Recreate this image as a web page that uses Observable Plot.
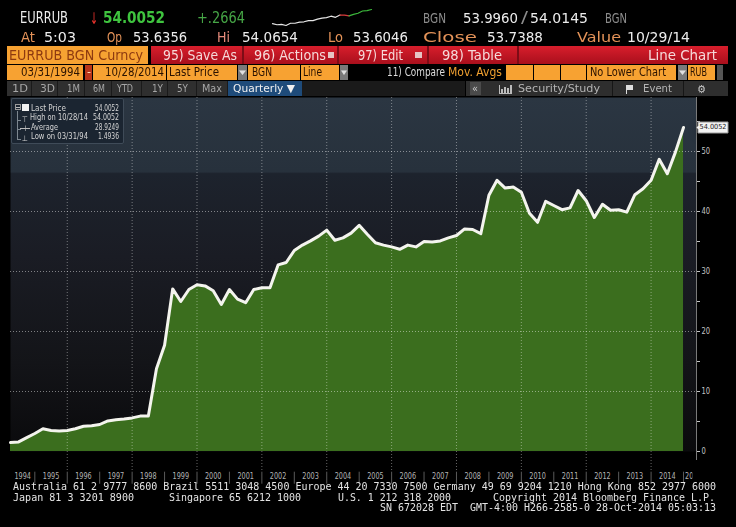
<!DOCTYPE html>
<html><head><meta charset="utf-8">
<script src="https://cdn.jsdelivr.net/npm/d3@7"></script>
<script src="https://cdn.jsdelivr.net/npm/@observablehq/plot@0.6"></script>
<style>
html,body{margin:0;padding:0;background:#000;}
#page{position:relative;width:736px;height:527px;overflow:hidden;background:#000;font-family:"DejaVu Sans",sans-serif;}
.t{position:absolute;white-space:pre;transform-origin:0 0;}
.b{position:absolute;box-sizing:border-box;}
#chart{position:absolute;left:0;top:96px;}
#spark{position:absolute;left:271px;top:8px;}
</style></head><body><div id="page"><div id="chart"></div><div id="spark"></div></div>
<script>
// ---------------- data ----------------
const startYear = 1994;            // first quarter-end: 03/31/1994
const eurrub = [
  1.49, 1.6, 2.3, 3.0,      // 1994
  3.8, 3.5, 3.4, 3.5,       // 1995
  3.8, 4.2, 4.3, 4.5,       // 1996
  5.1, 5.3, 5.4, 5.6,       // 1997
  5.9, 5.9, 13.8, 17.7,     // 1998
  27.1, 25.0, 27.0, 27.8,   // 1999
  27.6, 26.8, 24.5, 27.0,   // 2000
  25.4, 24.8, 27.0, 27.3,   // 2001
  27.3, 31.1, 31.5, 33.5,   // 2002
  34.4, 35.1, 35.9, 36.9,   // 2003
  35.2, 35.6, 36.4, 37.7,   // 2004
  36.2, 34.8, 34.4, 34.1,   // 2005
  33.7, 34.4, 34.1, 35.0,   // 2006
  34.9, 35.1, 35.6, 36.0,   // 2007
  37.1, 37.0, 36.3, 42.7,   // 2008
  45.2, 43.9, 44.1, 43.2,   // 2009
  39.7, 38.2, 41.7, 41.0,   // 2010
  40.3, 40.6, 43.5, 41.8,   // 2011
  39.0, 41.2, 40.2, 40.3,   // 2012
  39.9, 42.8, 43.8, 45.2,   // 2013
  48.7, 46.3, 49.9, 54.0052 // 2014
];
const yearLabels = [1994,1995,1996,1997,1998,1999,2000,2001,2002,2003,2004,2005,2006,2007,2008,2009,2010,2011,2012,2013,2014];
const partialYearLabels = [2015];
const yearBounds = [1995,1996,1997,1998,1999,2000,2001,2002,2003,2004,2005,2006,2007,2008,2009,2010,2011,2012,2013,2014,2015];
const gridYears = [1996,1998,2000,2002,2004,2006,2008,2010,2012,2014];
const yMajorTicks = [0,10,20,30,40,50];
const yMinorTicks = [5,15,25,35,45,55];
const sparkValues = [53.63,53.60,53.61,53.58,53.64,53.64,53.67,53.68,53.71,53.71,53.75,53.78,53.79,53.83,53.80,53.86,53.86,53.84,53.88,53.91,53.97,53.98,54.01];
const sparkSession = ["prev","prev","prev","prev","prev","prev","prev","prev","prev","prev","prev","prev","prev","prev","prev","prev","down","down","up","up","up","up","up"];

const series = eurrub.map((v, i) => ({t: startYear + (i + 1) / 4, v}));
const last = series[series.length - 1];
const xDomain = [startYear + 0.25, 2015.4];

const page = document.getElementById("page");
function T(txt, x, base, size, color, w, o = {}) {
  const s = document.createElement("span");
  const lh = (o.lh || 1) * size;
  s.className = "t";
  s.textContent = txt;
  s.style.left = x + "px";
  s.style.top = (base - ((lh / size - 1.164) / 2 + 0.928) * size) + "px";
  s.style.fontSize = size + "px";
  s.style.lineHeight = lh + "px";
  s.style.color = color;
  if (o.weight) s.style.fontWeight = o.weight;
  if (o.family) s.style.fontFamily = o.family;
  page.appendChild(s);
  if (w) { const m = s.getBoundingClientRect().width; if (m > 0) s.style.transform = `scaleX(${w / m})`; }
  return s;
}
function B(x, y, w, h, bg, o = {}) {
  const d = document.createElement("div");
  d.className = "b";
  Object.assign(d.style, {left: x + "px", top: y + "px", width: w + "px", height: h + "px", background: bg}, o);
  page.appendChild(d);
  return d;
}

// ---------------- header ----------------
const W = "#ececec", OR = "#e39258", GR = "#8c8c8c";
T("EURRUB", 20, 23.5, 15, W, 48);
T("↓", 90, 25, 16, "#e8322c", 8);
T("54.0052", 103, 23.5, 15, "#3fc43f", 62, {weight: "bold"});
T("+.2664", 197, 23.5, 15, "#46a646", 48);
T("BGN", 423, 23, 14, GR, 23);
T("53.9960", 463, 23, 14, W, 55);
T("/", 521, 23.5, 15, GR, 7);
T("54.0145", 530, 23, 14, W, 58);
T("BGN", 605, 23, 14, GR, 22);

T("At", 21, 42, 14, OR, 14);
T("5:03", 44, 42, 14, W, 32);
T("Op", 107, 42, 14, OR, 15);
T("53.6356", 133, 42, 14, W, 54);
T("Hi", 217, 42, 14, "#e58a7a", 13);
T("54.0654", 242, 42, 14, W, 56);
T("Lo", 328, 42, 14, OR, 15);
T("53.6046", 353, 42, 14, W, 55);
T("Close", 423, 42, 14, OR, 54);
T("53.7388", 487, 42, 14, W, 56);
T("Value", 577, 42, 14, OR, 44);
T("10/29/14", 627, 42, 14, W, 63);

// toolbar row
const ORG = "#f7a232", DK = "#2a1200", PK = "#f6dada";
B(7, 46, 141, 18, ORG);
B(151, 46, 577, 18, "linear-gradient(#d81e2c,#a90f1c)");
T("EURRUB BGN Curncy", 9, 60, 14, "#8e3a10", 134);
T("95) Save As", 163, 60, 14, PK, 74);
T("96) Actions", 254, 60, 14, PK, 72);
T("97) Edit", 358, 60, 14, PK, 45);
T("98) Table", 442, 60, 14, PK, 60);
T("Line Chart", 648, 60, 14, PK, 69);
[242, 337, 427, 517].forEach(x => B(x, 46, 2, 18, "#7d0c16"));
B(328, 52, 6, 6, "#e6c4c4"); B(415, 52, 7, 6, "#e6c4c4");

// field row
[[7,76],[93,73],[167,70],[248,52],[301,38],[506,27],[534,26],[561,25],[587,89],[688,27]].forEach(([x,w]) => B(x, 65, w, 15, ORG));
B(85, 65, 7, 15, "#b8351a");
[[238,9],[340,8],[678,9]].forEach(([x,w]) => { B(x, 65, w, 15, "#7a7a7a"); T("▾", x + 1, 76, 9, "#e0e0e0", w - 2); });
B(717, 65, 6, 15, "#555");
T("03/31/1994", 21, 76.5, 12, DK, 59);
T("-", 87, 76, 12, "#ffd8b0", 4);
T("10/28/2014", 105, 76.5, 12, DK, 59);
T("Last Price", 169, 76.5, 12, DK, 50);
T("BGN", 252, 76.5, 12, DK, 20);
T("Line", 303, 76.5, 12, DK, 19);
T("11) Compare", 387, 76.5, 12, "#dcdcdc", 58);
T("Mov. Avgs", 448, 76.5, 12, "#f0a030", 54);
T("No Lower Chart", 590, 76.5, 12, DK, 76);
T("RUB", 690, 76.5, 12, DK, 17);

// period row
B(7, 81, 458, 15, "#1a1a1a");
[[7,24],[32,25],[58,26],[85,26],[112,29],[142,25],[168,28],[197,30]].forEach(([x,w]) => B(x, 81, w, 15, "#2f2f2f"));
B(228, 81, 74, 15, "#1e4b7a");
B(466, 81, 262, 15, "#2e2e2e");
B(470, 82, 11, 13, "#4a4a4a");
[612, 683].forEach(x => B(x, 81, 1, 15, "#161616"));
const PG = "#a6a6a6";
T("1D", 12, 92.5, 11, PG, 16); T("3D", 40, 92.5, 11, PG, 15); T("1M", 67, 92.5, 11, PG, 13);
T("6M", 93, 92.5, 11, PG, 12); T("YTD", 117, 92.5, 11, PG, 16); T("1Y", 152, 92.5, 11, PG, 11);
T("5Y", 177, 92.5, 11, PG, 11); T("Max", 202, 92.5, 11, PG, 20);
T("Quarterly ▼", 233, 92.5, 11, "#f0f0f0", 62);
T("«", 472, 92, 10, "#cccccc", 6);
T("Security/Study", 518, 92.5, 11, "#b4b4b4", 82);
T("Event", 643, 92.5, 11, "#b4b4b4", 29);
T("⚙", 697, 93, 11, "#c8c8c8", 9);
B(499, 93, 13, 1, "#bbb"); B(499, 85, 1, 9, "#bbb");
B(501, 89, 2, 4, "#bbb"); B(504, 87, 2, 6, "#bbb"); B(507, 88, 2, 5, "#bbb"); B(510, 85, 2, 8, "#bbb");
B(626, 85, 1, 9, "#ddd"); B(627, 85, 6, 5, "#ddd");

// ---------------- sparkline ----------------
const sparkData = sparkValues.map((v, i) => ({i, v, s: sparkSession[i]}));
const sparkSegs = [];
["prev","down","up"].forEach(s => {
  const idx = sparkData.filter(d => d.s === s).map(d => d.i);
  const from = Math.max(0, idx[0] - 1);
  for (let k = from; k <= idx[idx.length - 1]; k++) sparkSegs.push({...sparkData[k], seg: s});
});
document.getElementById("spark").appendChild(Plot.plot({
  width: 101, height: 18, margin: 1, axis: null,
  x: {axis: null}, y: {axis: null},
  color: {domain: ["prev","down","up"], range: ["#e6e6e6","#d83a3a","#3cb83c"]},
  style: {background: "transparent", overflow: "visible"},
  marks: [Plot.line(sparkSegs, {x: "i", y: "v", z: "seg", stroke: "seg", strokeWidth: 1.2})]
}));

// ---------------- main chart ----------------
const defs = () => {
  const d = d3.create("svg:defs");
  const g = d.append("linearGradient").attr("id", "bgGrad").attr("x1", 0).attr("y1", 0).attr("x2", 0).attr("y2", 1);
  [[0,"#2b3642"],[0.21,"#27313c"],[0.215,"#1d232d"],[0.45,"#1a1c24"],[0.75,"#131418"],[1,"#0a0a0c"]]
    .forEach(([o,c]) => g.append("stop").attr("offset", o).attr("stop-color", c));
  d.append("clipPath").attr("id", "yrClip").append("rect").attr("x", 0).attr("y", 0).attr("width", 690.5).attr("height", 400);
  return d.node();
};
const chart = Plot.plot({
  width: 736, height: 390,
  marginTop: 1, marginBottom: 35, marginLeft: 10, marginRight: 40,
  x: {domain: xDomain, axis: null},
  y: {domain: [0, 59], axis: null},
  style: {background: "#000", color: "#c4c4c4", fontFamily: "DejaVu Sans", overflow: "visible"},
  marks: [
    defs,
    Plot.frame({fill: "url(#bgGrad)"}),
    Plot.areaY(series, {x: "t", y: "v", fill: "#3b6e1e"}),
    Plot.ruleY(yMajorTicks.filter(d => d > 0), {stroke: "#ffffff", strokeOpacity: 0.45, strokeDasharray: "1,2"}),
    Plot.ruleX(gridYears, {y1: 59, y2: -3.2, stroke: "#ffffff", strokeOpacity: 0.4, strokeDasharray: "1,2"}),
    Plot.lineY(series, {x: "t", y: "v", stroke: "#f4f4ee", strokeWidth: 3, strokeLinejoin: "round"}),
    Plot.ruleX([xDomain[1]], {y1: 59, y2: -1.5, stroke: "#7a7a7a"}),
    Plot.axisY({anchor: "right", ticks: yMajorTicks, tickSize: 3, tickPadding: 2, fontSize: 8, color: "#c4c4c4", label: null}),
    Plot.axisY({anchor: "right", ticks: yMinorTicks, tickSize: 3, tickFormat: () => "", color: "#c4c4c4", label: null}),
    Plot.ruleX(yearBounds, {y1: -3.45, y2: -5.45, stroke: "#5a5a5a"}),
    Plot.text(yearLabels, {x: d => (Math.max(d, xDomain[0]) + Math.min(d + 1, xDomain[1])) / 2, y: -4.2, text: d => String(d), fontSize: 8, fill: "#b4b4b4"}),
    Plot.text(partialYearLabels, {x: d => d, y: -4.2, text: d => String(d), textAnchor: "start", dx: 1.5, fontSize: 8, fill: "#b4b4b4"}),
    Plot.tip([last], {x: () => xDomain[1], y: "v", title: d => d.v.toFixed(4), anchor: "left", fill: "#f2f2f2", stroke: "#9a9a9a", fontSize: 7, textPadding: 1.5, pointerSize: 3})
  ]
});
document.getElementById("chart").appendChild(chart);
// post-render text fitting (condensed terminal font look)
const textGroups = chart.querySelectorAll('g[aria-label="text"]');
textGroups.forEach(g => g.querySelectorAll("text").forEach(t => {
  t.setAttribute("textLength", 16.5); t.setAttribute("lengthAdjust", "spacingAndGlyphs");
}));
if (textGroups[1]) textGroups[1].setAttribute("clip-path", "url(#yrClip)");
const tickLabelGroups = chart.querySelectorAll('g[aria-label="y-axis tick label"]');
tickLabelGroups.forEach((g, k) => {
  if (k > 0) { g.remove(); return; }
  g.querySelectorAll("text").forEach(t => {
    const n = t.textContent.length;
    t.setAttribute("textLength", 4.3 * n); t.setAttribute("lengthAdjust", "spacingAndGlyphs");
  });
});
chart.querySelectorAll('g[aria-label="tip"] text').forEach(t => {
  t.style.fill = "#1a1a1a";
  t.setAttribute("textLength", 27); t.setAttribute("lengthAdjust", "spacingAndGlyphs");
});

// legend box (top-left of chart)
B(11, 98, 113, 46, "#1b2531", {border: "1px solid #3f4b58", borderRadius: "2px"});
B(15, 104, 6, 6, "transparent", {border: "1px solid #9a9a9a"});
B(16, 106.5, 4, 1, "#bbb");
B(22, 104, 7, 7, "#f2f2f2");
B(17, 111, 1, 29, "#7d8790");
[120, 129, 139].forEach(y => B(17, y, 4, 1, "#7d8790"));
const LG = "#d4d4d4", LL = {lh: 0.9};
T("⊤", 22, 122, 8, LG, 6, LL);
T("+", 23, 131, 8, LG, 5, LL); B(20, 127.5, 10, 1, "#bbb");
T("⊥", 22, 141, 8, LG, 6, LL);
T("Last Price", 31, 111.5, 8.5, LG, 35, LL);
T("54.0052", 95, 111.5, 8.5, LG, 24, LL);
T("High on 10/28/14", 30, 121, 8.5, LG, 58, LL);
T("54.0052", 93, 121, 8.5, LG, 26, LL);
T("Average", 31, 130.5, 8.5, LG, 27, LL);
T("28.9249", 95, 130.5, 8.5, LG, 24, LL);
T("Low on 03/31/94", 31, 140, 8.5, LG, 57, LL);
T("1.4936", 98, 140, 8.5, LG, 21, LL);

// ---------------- footer ----------------
const FM = {family: "DejaVu Sans Mono", lh: 0.8}, FC = "#e4e4e4";
T("Australia 61 2 9777 8600 Brazil 5511 3048 4500 Europe 44 20 7330 7500 Germany 49 69 9204 1210 Hong Kong 852 2977 6000", 13, 490.5, 10, FC, 703, FM);
T("Japan 81 3 3201 8900", 13, 501, 10, FC, 121, FM);
T("Singapore 65 6212 1000", 169, 501, 10, FC, 132, FM);
T("U.S. 1 212 318 2000", 338, 501, 10, FC, 113, FM);
T("Copyright 2014 Bloomberg Finance L.P.", 493, 501, 10, FC, 222, FM);
T("SN 672028 EDT  GMT-4:00 H266-2585-0 28-Oct-2014 05:03:13", 380, 511, 10, FC, 336, FM);
</script></body></html>
